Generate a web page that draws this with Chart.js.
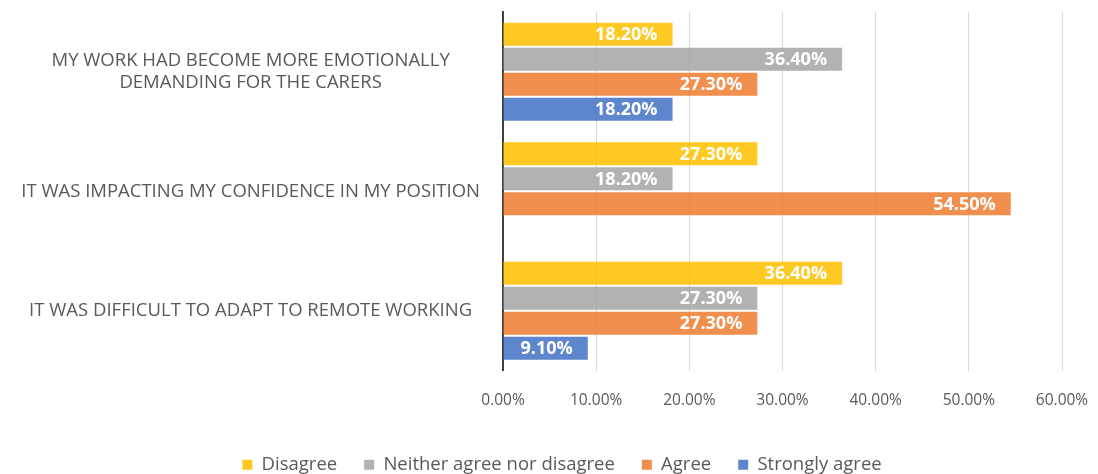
<!DOCTYPE html>
<html>
<head>
<meta charset="utf-8">
<script src="https://cdn.jsdelivr.net/npm/chart.js@4"></script>
<style>
  html, body { margin: 0; padding: 0; background: #fff; }
  #wrap { width: 1098px; height: 474px; }
</style>
</head>
<body>
<div id="wrap"><canvas id="chart"></canvas></div>
<script>
// survey statements (y axis), top to bottom
const statements = [
  ['MY WORK HAD BECOME MORE EMOTIONALLY', 'DEMANDING FOR THE CARERS'],
  'IT WAS IMPACTING MY CONFIDENCE IN MY POSITION',
  'IT WAS DIFFICULT TO ADAPT TO REMOTE WORKING'
];

// response shares in percent, one array per answer
const disagree = [18.2, 27.3, 36.4];
const neither = [36.4, 18.2, 27.3];
const agree = [27.3, 54.5, 27.3];
const stronglyAgree = [18.2, null, 9.1];

const seriesNames = ['Disagree', 'Neither agree nor disagree', 'Agree', 'Strongly agree'];
const xTicks = [0, 10, 20, 30, 40, 50, 60];

const FONT = '"Open Sans", sans-serif';

// white value text at the end of each bar
const barValues = {
  id: 'barValues',
  afterDatasetsDraw(chart) {
    const ctx = chart.ctx;
    ctx.save();
    ctx.font = 'bold 18px ' + FONT;
    ctx.fillStyle = '#ffffff';
    ctx.textAlign = 'right';
    ctx.textBaseline = 'middle';
    chart.data.datasets.forEach((ds, i) => {
      chart.getDatasetMeta(i).data.forEach((bar, j) => {
        const v = ds.data[j];
        if (v == null) return;
        ctx.fillText(v.toFixed(2) + '%', bar.x - 15, bar.y + 1);
      });
    });
    ctx.restore();
  }
};

// move the legend row a little right and down
const legendShift = {
  id: 'legendShift',
  afterLayout(chart) {
    const lg = chart.legend;
    const dx = 31, dy = 10;
    lg.left += dx; lg.right += dx;
    lg.top += dy; lg.bottom += dy;
  }
};

new Chart(document.getElementById('chart'), {
  type: 'bar',
  data: {
    labels: statements,
    datasets: [
      { label: seriesNames[0], data: disagree, backgroundColor: 'rgba(255,192,0,0.86)' },
      { label: seriesNames[1], data: neither, backgroundColor: 'rgba(165,165,165,0.86)' },
      { label: seriesNames[2], data: agree, backgroundColor: 'rgba(237,125,49,0.86)' },
      { label: seriesNames[3], data: stronglyAgree, backgroundColor: 'rgba(68,114,196,0.86)' }
    ]
  },
  options: {
    indexAxis: 'y',
    responsive: true,
    maintainAspectRatio: false,
    animation: false,
    layout: { padding: { top: 12, right: 36, bottom: 0, left: 0 } },
    datasets: {
      bar: { categoryPercentage: 0.835, barPercentage: 0.92 }
    },
    scales: {
      x: {
        min: 0,
        max: 60,
        afterBuildTicks(scale) {
          scale.ticks = xTicks.map(v => ({ value: v }));
        },
        afterFit(scale) {
          scale.height = 48;
          scale.paddingLeft = 0;
          scale.paddingRight = 0;
        },
        grid: { color: '#d9d9d9', lineWidth: 1, drawTicks: false },
        border: { display: false },
        ticks: {
          padding: 21,
          color: '#595959',
          font: { family: FONT, size: 15.5 },
          callback: v => v.toFixed(2) + '%'
        }
      },
      y: {
        afterFit(scale) {
          scale.width = 503;
          scale.paddingTop = 0;
          scale.paddingBottom = 0;
        },
        grid: { display: false, drawTicks: false },
        border: { display: true, color: '#404040', width: 2 },
        ticks: {
          crossAlign: 'center',
          padding: 23,
          color: '#595959',
          font: { family: FONT, size: 18.5 }
        }
      }
    },
    plugins: {
      legend: {
        position: 'bottom',
        labels: {
          boxWidth: 10,
          boxHeight: 10,
          padding: 27,
          color: '#595959',
          font: { family: FONT, size: 18.5 }
        }
      },
      tooltip: { enabled: false }
    }
  },
  plugins: [barValues, legendShift]
});
</script>
</body>
</html>
